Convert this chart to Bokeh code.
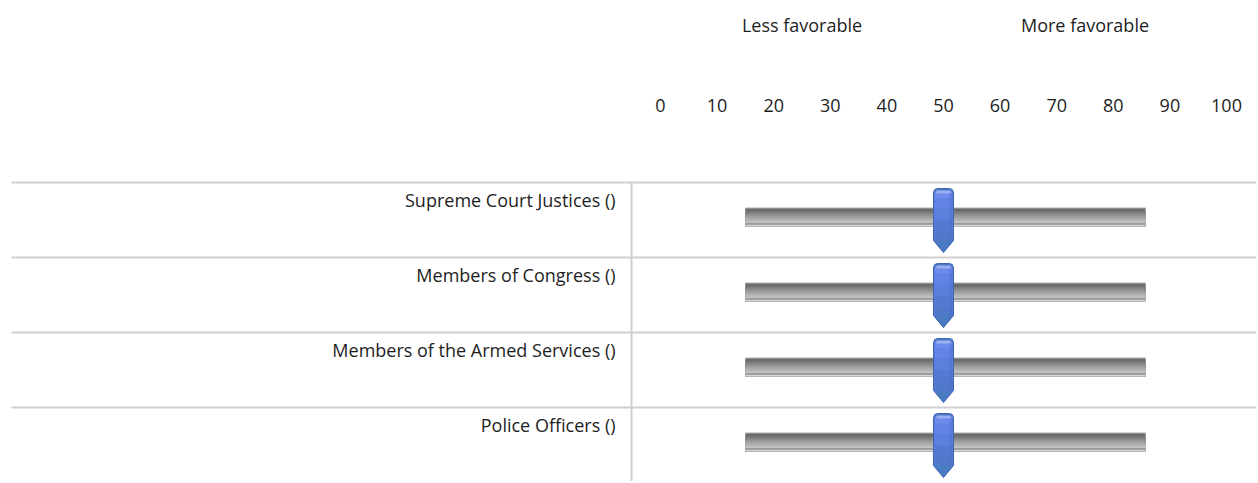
from bokeh.plotting import figure
from bokeh.models import Range1d
from bokeh.core.properties import value
from bokeh.embed import file_html
from bokeh.resources import INLINE

# ---- data ----
categories = ["Supreme Court Justices ()", "Members of Congress ()",
              "Members of the Armed Services ()", "Police Officers ()"]
slider_values = [50, 50, 50, 50]
slider_min = 15
slider_max = 85.7
tick_values = [0, 10, 20, 30, 40, 50, 60, 70, 80, 90, 100]
tick_labels = ["0", "10", "20", "30", "40", "50", "60", "70", "80", "90", "100"]
anchor_labels = ["Less favorable", "More favorable"]
anchor_values = [25, 75]

# ---- layout (pixels) ----
W, H = 1256, 481
PX = 5.66            # pixels per scale unit
ZERO_PX = 660        # figure x of value 0
ROW = 75.0           # row height in px
TOP_PX = 182         # figure y of first grid line

x0 = -ZERO_PX / PX
x1 = x0 + W / PX
y1 = TOP_PX / ROW
y0 = y1 - H / ROW

def dx(px):
    return px / PX

def dy(px):
    return px / ROW

def xs(px):
    return x0 + px / PX

p = figure(width=W, height=H, output_backend="svg", toolbar_location=None,
           x_range=Range1d(x0, x1), y_range=Range1d(y0, y1),
           min_border=0, outline_line_color=None)
p.axis.visible = False
p.grid.visible = False
p.background_fill_color = "white"
p.border_fill_color = "white"

FONT = value("Open Sans")
TXT = "#1e1e1e"
GRID = "#cfcfcf"
FS = "18px"

n = len(categories)
for i in range(n):
    p.line([xs(11), x1], [-i, -i], line_color=GRID, line_width=2)
p.line([xs(631), xs(631)], [0, y0], line_color=GRID, line_width=2)

p.text(x=anchor_values, y=[y1 - dy(24)] * 2, text=anchor_labels,
       text_font=FONT, text_font_size=FS, text_color=TXT,
       text_align="center", text_baseline="middle")
p.text(x=tick_values, y=[y1 - dy(105)] * len(tick_values), text=tick_labels,
       text_font=FONT, text_font_size=FS, text_color=TXT,
       text_align="center", text_baseline="middle")

p.text(x=[xs(615)] * n, y=[-i - dy(17) for i in range(n)], text=categories,
       text_font=FONT, text_font_size=FS, text_color=TXT,
       text_align="right", text_baseline="middle")

# slider tracks: overlapping bands (each runs to the track bottom -> no seams)
bands = [(0, "#b0b0b0"), (1, "#6c6c6c"), (4, "#7c7c7c"), (6, "#8c8c8c"),
         (8, "#9c9c9c"), (10, "#aaaaaa"), (12, "#b6b6b6"), (14, "#c2c2c2"),
         (16, "#727272"), (17, "#d6d6d6")]
for i in range(n):
    top = -i - dy(25)
    for a, c in bands:
        p.quad(left=slider_min, right=slider_max, top=top - dy(a), bottom=top - dy(19),
               fill_color=c, line_color=None)

# handles
hw = dx(10)
hbands = [(9, "#6e8cec"), (16, "#6384e6"), (26, "#5b7fdc"), (38, "#5479d1"),
          (50, "#4f78c8")]
for i, v in enumerate(slider_values):
    t = -i
    r = dx(4)
    xs_shape = [v - hw, v - hw, v - hw + r * 0.3, v - hw + r, v + hw - r, v + hw - r * 0.3,
                v + hw, v + hw, v]
    ys_shape = [t - dy(58), t - dy(10), t - dy(7), t - dy(6), t - dy(6), t - dy(7),
                t - dy(10), t - dy(58), t - dy(70)]
    p.patch(xs_shape, ys_shape, fill_color="#4b78c2", line_color="#3d62b8", line_width=1)
    for a, c in hbands:
        p.quad(left=v - hw + dx(1.2), right=v + hw - dx(1.2),
               top=t - dy(a), bottom=t - dy(58), fill_color=c, line_color=None)
    p.patch([v - hw + dx(1.2), v + hw - dx(1.2), v], [t - dy(57.9), t - dy(57.9), t - dy(68.5)],
            fill_color="#4a7bc0", line_color=None)
    p.quad(left=v - hw + dx(3), right=v + hw - dx(3), top=t - dy(8), bottom=t - dy(11),
           fill_color="#9ab0f2", line_color=None)
    p.quad(left=v + hw - dx(4), right=v + hw - dx(1.2), top=t - dy(11), bottom=t - dy(58),
           fill_color="#4a6ccc", fill_alpha=0.4, line_color=None)

open("out.html", "w").write(file_html(p, INLINE))
